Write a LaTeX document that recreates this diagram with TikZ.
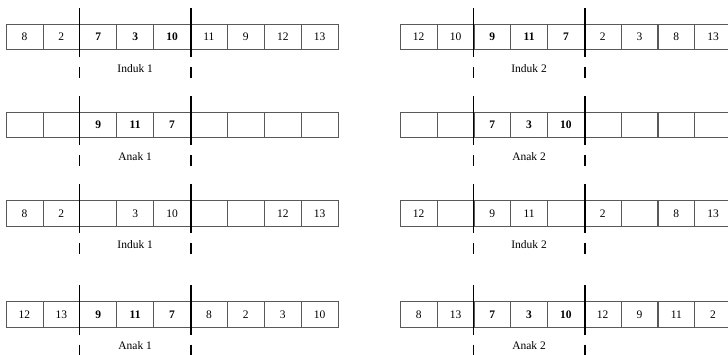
\documentclass[tikz,border=0pt]{standalone}
\usepackage{fontspec}
\setmainfont{Liberation Serif}
\usetikzlibrary{positioning}

\begin{document}
\begin{tikzpicture}[x=1pt,y=-1pt,font=\fontsize{11.5}{13}\selectfont,
    cell/.style={draw=black!65,line width=0.8pt,minimum width=36.9pt,
      minimum height=25.5pt,inner sep=0pt},
    cut/.style={line width=1.5pt},
    tag/.style={inner sep=0pt}]
  \useasboundingbox (0,0) rectangle (728,354);
  \clip (0,0) rectangle (728,354);

  % left column
  \foreach \v [count=\i] in {8,2,\textbf{7},\textbf{3},\textbf{10},11,9,12,13}
    \node[cell] (l1-\i) at (6+36.9*\i-18.45,37) {\v};
  \foreach \v [count=\i] in {{},{},\textbf{9},\textbf{11},\textbf{7},{},{},{},{}}
    \node[cell] (l2-\i) at (6+36.9*\i-18.45,125) {\v};
  \foreach \v [count=\i] in {8,2,{},3,10,{},{},12,13}
    \node[cell] (l3-\i) at (6+36.9*\i-18.45,213.3) {\v};
  \foreach \v [count=\i] in {12,13,\textbf{9},\textbf{11},\textbf{7},8,2,3,10}
    \node[cell] (l4-\i) at (6+36.9*\i-18.45,314.5) {\v};

  % right column
  \foreach \v [count=\i] in {12,10,\textbf{9},\textbf{11},\textbf{7},2,3,8,13}
    \node[cell] (r1-\i) at (400.3+36.8*\i-18.4,37) {\v};
  \foreach \v [count=\i] in {{},{},\textbf{7},\textbf{3},\textbf{10},{},{},{},{}}
    \node[cell] (r2-\i) at (400.3+36.8*\i-18.4,125) {\v};
  \foreach \v [count=\i] in {12,{},9,11,{},2,{},8,13}
    \node[cell] (r3-\i) at (400.3+36.8*\i-18.4,213.3) {\v};
  \foreach \v [count=\i] in {8,13,\textbf{7},\textbf{3},\textbf{10},12,9,11,2}
    \node[cell] (r4-\i) at (400.3+36.8*\i-18.4,314.5) {\v};

  % cut points
  \foreach \s in {l,r}
    \foreach \r in {1,2,3,4} {
      \draw[cut] ([yshift=16pt]\s\r-3.north west) -- ([yshift=-7pt]\s\r-3.south west);
      \draw[cut] ([yshift=-17pt]\s\r-3.south west) -- ([yshift=-28pt]\s\r-3.south west);
      \draw[cut] ([yshift=16pt]\s\r-5.north east) -- ([yshift=-7pt]\s\r-5.south east);
      \draw[cut] ([yshift=-17pt]\s\r-5.south east) -- ([yshift=-28pt]\s\r-5.south east);
    }

  % labels
  \foreach \r/\t in {1/Induk 1,2/Anak 1,3/Induk 1,4/Anak 1}
    \node[tag] (lt\r) at ([yshift=-18pt]l\r-4.south) {\t};
  \foreach \r/\t in {1/Induk 2,2/Anak 2,3/Induk 2,4/Anak 2}
    \node[tag] (rt\r) at ([yshift=-18pt]r\r-4.south) {\t};
\end{tikzpicture}
\end{document}
